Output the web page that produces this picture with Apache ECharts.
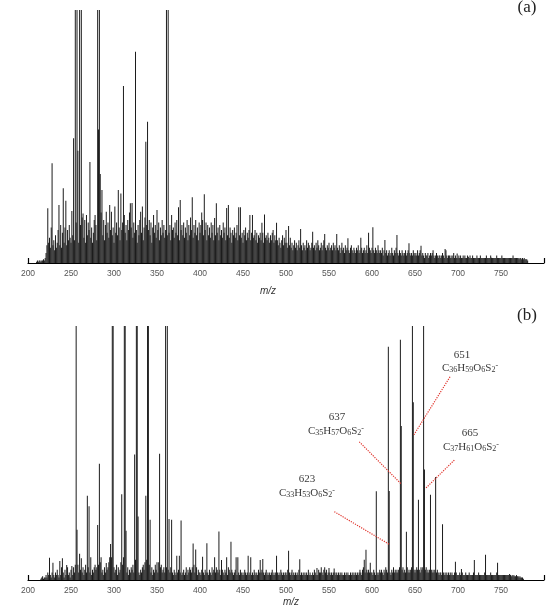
<!DOCTYPE html>
<html><head><meta charset="utf-8">
<script src="https://cdn.jsdelivr.net/npm/echarts/dist/echarts.min.js"></script>
<style>html,body{margin:0;padding:0;background:#fff}#c{width:550px;height:612px}</style>
</head><body><div id="c"></div>
<script>
// ---------- data ----------
const xMin = 200, xMax = 800, xStep = 50;

// panel (a): low-level ion forest, one value per nominal m/z starting at topBaseStart
const topBaseStart = 210;
const topBase = [
0.5,1,0.5,1,1,0.5,1,1,1.5,1,
2,4,7,16,8,10,6,14,11,7,
9,5,11,6,8,13,10,7,15,6,
12,16,8,14,11,7,13,9,15,10,
8,17,11,14,9,12,16,10,13,8,
11,15,9,18,12,10,17,8,14,11,
16,13,19,10,14,8,12,17,11,15,
9,18,13,16,10,20,14,11,17,9,
15,18,12,16,10,19,13,17,11,14,
8,20,12,16,11,18,14,9,21,13,
16,10,19,12,15,9,17,13,20,11,
14,18,10,16,12,19,13,8,15,11,
17,20,12,16,9,14,18,11,15,10,
13,17,11,16,8,14,19,12,15,10,
18,13,16,9,14,11,17,12,15,10,
13,16,11,18,12,15,9,19,13,14,
10,16,12,17,11,14,9,18,13,15,
11,16,10,14,12,17,9,15,11,18,
13,16,10,15,12,17,11,14,9,16,
12,15,10,17,11,14,13,16,9,15,
11,14,10,16,12,15,9,13,11,17,
12,14,9,15,11,13,10,16,12,14,
9,13,11,15,10,14,12,8,13,11,
14,10,12,15,9,13,11,14,10,12,
8,13,11,14,9,12,10,13,11,9,
12,14,10,11,13,9,12,8,11,10,
12,9,11,12,8,13,10,11,9,12,
10,8,11,9,12,10,8,11,9,12,
9,7,10,8,6,9,11,7,10,8,
5,8,6,9,7,10,6,8,5,7,
9,6,8,5,7,9,6,10,7,5,
8,6,7,5,9,6,8,7,5,6,
8,10,6,7,5,8,6,9,7,5,
6,8,5,7,9,10,6,5,7,6,
8,5,6,7,5,8,6,7,5,9,
6,5,7,4,6,8,5,6,4,7,
5,6,8,5,4,6,7,5,4,6,
5,4,6,5,7,4,5,8,6,4,
5,6,4,5,7,4,8,6,5,4,
6,9,5,4,6,5,4,7,5,4,
5,4,6,3,5,7,4,5,3,4,
5,3,4,6,4,3,5,4,6,8,
4,3,5,4,3,5,4,3,4,5,
3,4,5,6,4,3,4,3,5,4,
3,4,3,5,3,4,5,6,3,4,
3,2,4,3,3,4,2,3,4,3,
4,5,3,2,3,4,3,2,3,3,
2,3,4,3,2,3,5,3,2,3,
3,2,3,2,3,4,2,3,2,3,
2,3,2,3,2,2,3,2,3,2,
2,3,2,2,3,2,2,3,2,2,
2,2,3,2,2,2,3,2,2,2,
2,2,2,3,2,2,2,2,3,2,
2,2,2,2,2,3,2,2,2,2,
2,3,2,2,2,2,2,2,2,2,
2,2,2,2,3,2,2,2,2,2,
2,1.5,2,2,1.5,2,1.5,2,1.5,1.5,
1.5,1
];
// panel (a): resolved peaks [m/z, relative intensity]
const topPeaks = [
[223,21.6],[228,39.4],[236,22.9],[241,29.5],[244,24.6],[251,20.6],[253,49.3],[255,130],[257,130],
[258,44.4],[260,130],[262,130],[264,19.6],[268,19],[272,39.9],[278,19],[281,130],[282,52.8],
[283,130],[284,35.2],[286,28.9],[291,20.3],[295,22.9],[297,20.3],[301,22.3],[305,28.9],[308,27.5],
[311,70],[319,23.6],[321,23.7],[325,83.5],[331,20.3],[333,22.3],[337,47.9],[339,55.8],[346,19],
[350,20.9],[361,130],[363,130],[367,19],[371,15.8],[375,22],[377,24.9],[391,26],[402,20],[405,27.2],
[417,17.8],[419,23.6],[431,21.7],[433,22.9],[445,22],[447,22],[458,19],[461,19],[472,15.9],[475,19.2],
[485,13],[489,15.9],[500,13],[503,14.6],[517,13.4],[531,12.4],[545,11.5],[559,11.5],[572,9.8],
[587,10],[596,12],[601,14.1],[615,9.1],[629,11.1],[643,7.8],[657,6.8],[671,4.5],[685,5.5],
[699,3.8],[712,2.5],[726,2.5],[739,2.1],[751,2.4],[764,2]
];

// panel (b)
const botBaseStart = 215;
const botBase = [
0.5,1,1.5,0.5,1,
1,2,1,3,2,4,2,1,3,2,
2,1,3,2,4,2,1,3,2,5,
2,3,1,4,2,3,5,2,3,1,
4,3,2,5,3,6,8,4,6,3,
5,4,6,3,5,2,4,6,3,7,
5,4,3,6,2,4,3,5,6,4,
5,3,6,4,7,5,3,4,2,5,
3,6,4,5,7,3,8,9,9,6,
5,3,4,6,2,5,3,4,7,5,
6,9,9,7,4,3,5,2,4,3,
5,4,6,3,7,8,9,6,4,3,
2,4,3,5,6,4,7,5,8,9,
9,6,4,3,5,2,4,3,6,4,
5,3,7,4,5,6,3,4,5,3,
8,5,8,4,6,3,5,4,3,2,
4,3,2,5,3,4,2,3,5,2,
3,4,2,3,5,2,4,3,5,4,
3,5,4,6,3,4,5,2,4,3,
3,2,4,5,3,2,4,3,5,3,
2,4,3,2,5,3,4,2,3,5,
4,3,5,4,2,3,4,3,2,4,
3,4,2,5,4,3,2,4,3,2,
3,4,3,2,4,3,2,4,3,2,
3,2,4,3,2,3,4,2,3,4,
2,3,2,4,3,2,3,2,4,3,
2,3,4,2,3,2,3,4,2,3,
2,3,2,3,4,2,3,2,3,4,
3,2,3,2,4,3,2,3,2,3,
3,2,4,2,3,2,3,4,2,3,
2,3,2,3,2,4,3,2,3,2,
3,2,3,2,3,2,4,2,3,2,
2,3,2,4,3,2,3,2,4,3,
3,4,3,2,4,5,3,4,2,3,
4,3,2,3,2,3,2,3,2,3,
2,3,2,3,2,3,2,2,3,2,
3,2,3,2,2,3,2,3,2,3,
2,3,2,3,2,3,4,3,2,4,
5,4,3,5,4,3,4,3,2,3,
3,2,4,3,2,4,3,2,3,4,
3,4,3,2,4,3,5,4,3,5,
4,3,2,4,3,5,3,4,3,4,
3,4,5,4,3,4,5,3,4,3,
4,5,3,4,3,4,5,4,5,4,
3,4,5,4,3,4,3,5,4,5,
4,3,4,5,3,4,3,4,3,4,
3,4,3,4,5,3,4,3,2,3,
3,2,4,3,2,3,2,3,2,3,
2,3,2,3,2,2,3,2,3,2,
2,2,3,2,2,3,2,2,2,3,
2,2,2,3,2,2,2,2,3,2,
2,2,2,2,3,2,2,2,2,2,
2,3,2,2,2,2,2,2,3,2,
2,2,2,2,2,3,2,2,2,2,
2,2,2,2,2,2,2,2,2,2,
1.5,2,1.5,2,1.5,2,1.5,1.5,2,1.5,
1.5,1,1.5,1,1,1,0.5
];
const botPeaks = [
[217,1.5],[225,8.8],[229,6.8],[237,7.5],[240,8.6],[245,5.9],[251,5.5],[256,140],[257,19.8],
[260,10.3],[262,8.6],[269,33.2],[271,29],[273,9],[281,21.7],[283,45.8],[285,9],[291,6.7],[295,9],
[296,14.2],[298,140],[299,140],[309,33.8],[312,140],[313,140],[314,19.4],[324,49.4],[326,140],
[327,140],[328,25],[337,33.2],[339,140],[340,140],[342,23.7],[350,7],[353,49.7],[360,140],[362,140],
[364,24],[367,23.7],[373,9.5],[376,9.5],[378,23.4],[392,14.4],[395,12],[403,9.2],[408,14.5],
[417,9],[422,19.1],[425,7.9],[431,9],[436,15.1],[442,9],[444,9],[456,9.5],[459,9],[470,7.9],
[473,8.3],[489,9.5],[503,11.5],[516,8.2],[536,4.7],[541,5],[545,4.5],[550,4.7],[556,4.5],
[591,8],[593,11.9],[598,6.8],[605,34.9],[619,91.8],[620,35],[633,94.6],[634,60.6],[640,19],
[647,140],[648,70],[654,31.6],[660,140],[661,43.5],[668,33.6],[674,40.6],[682,21.9],[697,7.2],
[704,4.3],[719,7.9],[732,9.9],[746,6.8],[760,2.4]
];

// annotations of panel (b)
const annoNumbers = ['623', '637', '651', '665'];
const annoFormulas = [
  ['33','53','6','2'],
  ['35','57','6','2'],
  ['36','59','6','2'],
  ['37','61','6','2']
];

// ---------- build ----------
function build(start, base, peaks) {
  const m = new Map();
  base.forEach((v, i) => m.set(start + i, v));
  peaks.forEach(([x, v]) => m.set(x, Math.max(m.get(x) || 0, v)));
  return Array.from(m.entries()).sort((a, b) => a[0] - b[0]);
}
const topData = build(topBaseStart, topBase, topPeaks);
const botData = build(botBaseStart, botBase, botPeaks);

function formula(sub) {
  return '{n|C}{s|' + sub[0] + '}{n|H}{s|' + sub[1] + '}{n|O}{s|' + sub[2] + '}{n|S}{s|' + sub[3] + '}{c|-}';
}

const serif = 'Liberation Serif, DejaVu Serif, serif';
const sans = 'Liberation Sans, DejaVu Sans, sans-serif';
const inkColor = '#1c1c1c';
const arrowColor = '#e0342c';

// annotation placement in data coordinates [m/z, intensity]
const numPos = [[524.4, 39.8], [559.3, 64.3], [704.7, 88.6], [714, 57.9]];
const formPos = [[524.4, 34.4], [558.1, 58.8], [714, 83.5], [715.1, 52.4]];
const arrowFrom = [[556.2, 26.9], [585.2, 54.4], [690.7, 80.0], [695.7, 47.2]];
const arrowTo = [[619.8, 14.1], [633.7, 37.9], [648.8, 57.2], [662.4, 36.1]];

const markPts = [];
annoNumbers.forEach((n, i) => {
  markPts.push({ coord: numPos[i], label: { formatter: n, fontFamily: serif, fontSize: 11, color: '#3a3a3a' } });
  markPts.push({ coord: formPos[i], label: { formatter: formula(annoFormulas[i]) } });
});

function xAxisMain(gi) {
  return {
    type: 'value', gridIndex: gi, position: 'bottom', min: xMin, max: xMax, interval: xStep,
    axisLine: { show: true, onZero: false, lineStyle: { color: '#000', width: 1.2 } },
    axisTick: { show: false }, splitLine: { show: false },
    axisLabel: { showMaxLabel: false, fontSize: 8.5, color: '#555', fontFamily: sans, margin: 6 }
  };
}
function xAxisEnds(gi) {
  return {
    type: 'value', gridIndex: gi, position: 'bottom', min: xMin, max: xMax, interval: xMax - xMin,
    axisLine: { show: false, onZero: false },
    axisTick: { show: true, inside: true, length: 5, lineStyle: { color: '#000', width: 1.2 } },
    axisLabel: { show: false }, splitLine: { show: false }
  };
}

const option = {
  animation: false,
  backgroundColor: '#fff',
  grid: [
    { left: 28, right: 6, top: 10, bottom: 349 },
    { left: 28, right: 6, top: 326, bottom: 32 }
  ],
  xAxis: [xAxisMain(0), xAxisEnds(0), xAxisMain(1), xAxisEnds(1)],
  yAxis: [
    { type: 'value', gridIndex: 0, min: 0, max: 100, show: false },
    { type: 'value', gridIndex: 1, min: 0, max: 100, show: false }
  ],
  series: [
    {
      type: 'bar', xAxisIndex: 0, yAxisIndex: 0, data: topData, barWidth: 1,
      itemStyle: { color: inkColor }, silent: true
    },
    {
      type: 'bar', xAxisIndex: 2, yAxisIndex: 1, data: botData, barWidth: 1,
      itemStyle: { color: inkColor }, silent: true,
      markLine: {
        silent: true, symbol: ['none', 'arrow'], symbolSize: [0, 7],
        label: { show: false },
        lineStyle: { color: arrowColor, type: 'dotted', width: 1.2 },
        data: arrowFrom.map((f, i) => [{ coord: f }, { coord: arrowTo[i] }])
      },
      markPoint: {
        silent: true, symbol: 'rect', symbolSize: 1,
        itemStyle: { color: 'rgba(0,0,0,0)' },
        label: {
          show: true, position: 'inside',
          rich: {
            n: { fontFamily: serif, fontSize: 11, color: '#3a3a3a', lineHeight: 12 },
            s: { fontFamily: serif, fontSize: 8, color: '#3a3a3a', lineHeight: 8, verticalAlign: 'bottom' },
            c: { fontFamily: serif, fontSize: 8, color: '#3a3a3a', lineHeight: 8, verticalAlign: 'top' }
          }
        },
        data: markPts
      }
    }
  ],
  graphic: [
    { type: 'text', x: 268, y: 291, style: { text: 'm/z', font: 'italic 10px ' + sans, fill: '#333', textAlign: 'center', textVerticalAlign: 'middle' } },
    { type: 'text', x: 291, y: 602, style: { text: 'm/z', font: 'italic 10px ' + sans, fill: '#333', textAlign: 'center', textVerticalAlign: 'middle' } },
    { type: 'text', x: 527, y: 8, style: { text: '(a)', font: '17px ' + serif, fill: '#222', textAlign: 'center', textVerticalAlign: 'middle' } },
    { type: 'text', x: 527, y: 315.5, style: { text: '(b)', font: '17px ' + serif, fill: '#222', textAlign: 'center', textVerticalAlign: 'middle' } }
  ]
};

const chart = echarts.init(document.getElementById('c'), null, { renderer: 'canvas' });
chart.setOption(option);
</script>
</body></html>
